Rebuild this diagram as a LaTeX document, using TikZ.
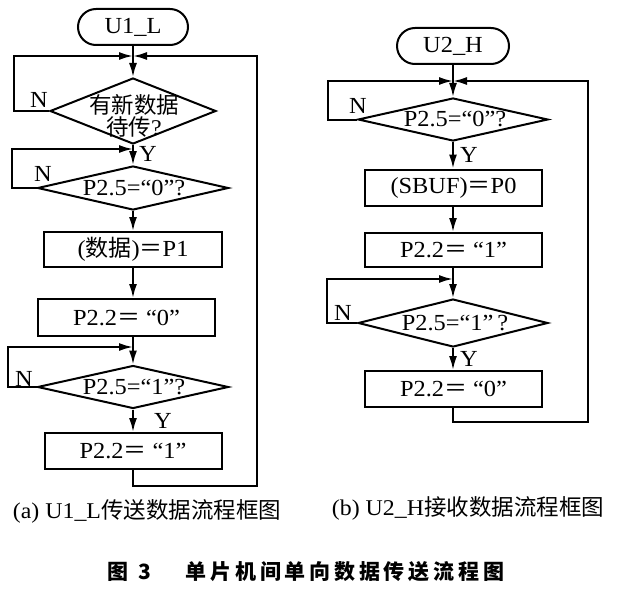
\documentclass[tikz,border=0pt]{standalone}
\usepackage{fontspec}
\setmainfont[FakeStretch=1.06]{Liberation Serif}
\newfontfamily\cjk{Noto Sans CJK SC}
\newfontfamily\cjkt[LetterSpace=18]{Noto Sans CJK SC}
\usetikzlibrary{shapes.geometric,arrows.meta}
\tikzset{
  ln/.style={line width=2pt},
  arr/.style={ln,-{Latex[length=14pt,width=8pt]}},
  txt/.style={font=\fontsize{23}{22}\selectfont,inner sep=0pt},
  procbox/.style={draw,line width=2pt,rectangle,minimum width=177pt,minimum height=36pt,inner sep=0pt,font=\fontsize{23}{22}\selectfont},
  dec/.style={draw,line width=2pt,diamond,inner sep=0pt,minimum width=191pt,minimum height=44pt},
  term/.style={draw,line width=2pt,rectangle,rounded corners=18pt,minimum width=110pt,minimum height=36pt,inner sep=0pt,font=\fontsize{23}{22}\selectfont},
  capt/.style={font=\fontsize{22.5}{22}\selectfont,inner sep=0pt},
}
\begin{document}
\begin{tikzpicture}[x=1pt,y=-1pt]
\fill[white] (0,0) rectangle (617,591);
\useasboundingbox (0,0) rectangle (617,591);
% ---------- left chart ----------
\node[term] (t1) at (133,27) {U1\_L};
\node[dec,minimum width=166pt,minimum height=66pt] (d1) at (133,111) {};
\node[txt,align=center,font=\fontsize{22.5}{22}\selectfont] (d1t) at (134,116) {{\cjk 有新数据}\\{\cjk 待传}?};
\node[dec] (d2) at (133,188) {};
\node[txt] (d2t) at (134,188) {P2.5=“0”?};
\node[procbox,minimum width=178pt,minimum height=35pt] (b1) at (133,249.5) {({\cjk 数据}){\cjk ＝}P1};
\node[procbox,minimum height=37pt] (b2) at (126.5,317.5) {P2.2{\cjk ＝}\ “0”};
\node[dec,minimum height=43pt] (d3) at (133,387) {};
\node[txt] (d3t) at (134,387) {P2.5=“1”?};
\node[procbox] (b3) at (133,451) {P2.2{\cjk ＝}\ “1”};
\coordinate (j1) at (133,56);  \coordinate (l1) at (14,56);
\coordinate (j2) at (133,149); \coordinate (l2) at (12,149);
\coordinate (j3) at (133,347); \coordinate (l3) at (8,347);
\coordinate (r1) at (257,486);
\draw[arr] (t1.south) -- (d1.north);
\draw[arr] (d1.west) -| (l1) -- (j1);
\draw[arr] (d1.south) -- (d2.north);
\draw[arr] (d2.west) -| (l2) -- (j2);
\draw[arr] (d2.south) -- (b1.north);
\draw[arr] (b1.south) -- (b1.south |- b2.north);
\draw[arr] (b1.south |- b2.south) -- (d3.north);
\draw[arr] (d3.west) -| (l3) -- (j3);
\draw[arr] (d3.south) -- (b3.north);
\draw[arr] (b3.south) |- (r1) |- (j1);
\node[txt] (n1) at (39,100) {N};
\node[txt] (y1) at (148,154) {Y};
\node[txt] (n2) at (43,174) {N};
\node[txt] (n3) at (24,379) {N};
\node[txt] (y3) at (163,421) {Y};
% ---------- right chart ----------
\node[term,minimum width=112pt] (t2) at (453,46) {U2\_H};
\node[dec,minimum width=190pt,minimum height=43pt] (d4) at (453,119.5) {};
\node[txt] (d4t) at (455,119.5) {P2.5=“0”?};
\node[procbox] (b4) at (453.5,187.5) {(SBUF){\cjk ＝}P0};
\node[procbox,minimum height=34pt] (b5) at (453.5,250) {P2.2{\cjk ＝}\ “1”};
\node[dec,minimum width=190pt,minimum height=48pt] (d5) at (453,323) {};
\node[txt] (d5t) at (455,323) {P2.5=“1”\,?};
\node[procbox] (b6) at (453.5,389) {P2.2{\cjk ＝}\ “0”};
\coordinate (j4) at (453,81);  \coordinate (l4) at (328,81);
\coordinate (j5) at (453,279); \coordinate (l5) at (327,279);
\coordinate (r2) at (588,422);
\draw[arr] (t2.south) -- (d4.north);
\draw[arr] (d4.west) -| (l4) -- (j4);
\draw[arr] (d4.south) -- (d4.south |- b4.north);
\draw[arr] (d4.south |- b4.south) -- (d4.south |- b5.north);
\draw[arr] (d4.south |- b5.south) -- (d5.north);
\draw[arr] (d5.west) -| (l5) -- (j5);
\draw[arr] (d5.south) -- (d5.south |- b6.north);
\draw[arr] (d5.south |- b6.south) |- (r2) |- (j4);
\node[txt] (n4) at (358,106) {N};
\node[txt] (y4) at (469,155) {Y};
\node[txt] (n5) at (343,313) {N};
\node[txt] (y5) at (469,359) {Y};
% ---------- captions ----------
\node[capt] (ca) at (147,511) {(a)\ U1\_L{\cjk 传送数据流程框图}};
\node[capt] (cb) at (468,508) {(b) U2\_H{\cjk 接收数据流程框图}};
\node[inner sep=0pt,font=\cjkt\bfseries\fontsize{21}{22}\selectfont] (title) at (306,572) {图\hspace{10pt}3\hspace{34pt}单片机间单向数据传送流程图};
\end{tikzpicture}
\end{document}
